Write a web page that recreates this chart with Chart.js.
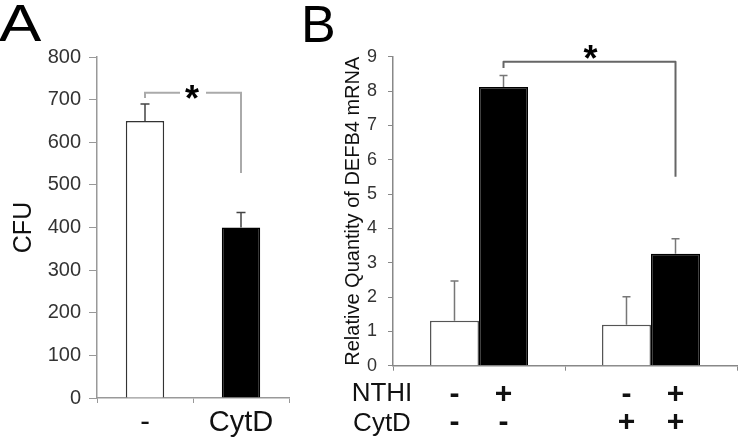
<!DOCTYPE html>
<html>
<head>
<meta charset="utf-8">
<script src="https://cdn.jsdelivr.net/npm/chart.js@4/dist/chart.umd.min.js"></script>
<style>
  html, body { margin: 0; padding: 0; background: #fff; }
  #wrap { position: relative; width: 739px; height: 440px; }
  canvas { position: absolute; left: 0; top: 0; }
</style>
</head>
<body>
<div id="wrap">
  <canvas id="chartA" width="739" height="440"></canvas>
  <canvas id="chartB" width="739" height="440"></canvas>
</div>
<script>
// ---------- Panel A data ----------
const aCategories = ['-', 'CytD'];
const aValues = [650, 400];
const aErrors = [40, 35];
const aTicks = [0, 100, 200, 300, 400, 500, 600, 700, 800];
const aBracket = [716, 704, 528];   // top level, left end, right end (CFU)

// ---------- Panel B data ----------
const bGroups = ['', ''];
const bNoNTHI = [1.31, 1.19];
const bNoNTHIErr = [1.16, 0.82];
const bNTHI = [8.12, 3.26];
const bNTHIErr = [0.33, 0.44];
const bTicks = [0, 1, 2, 3, 4, 5, 6, 7, 8, 9];
const bBracket = [8.85, 8.67, 5.5];
const nthiRow = ['-', '+', '-', '+'];
const cytdRow = ['-', '-', '+', '+'];

const FONT = "'Liberation Sans', Arial, Helvetica, sans-serif";

function errBar(ctx, x, yTop, yBase, cap, color) {
  ctx.save();
  ctx.strokeStyle = color;
  ctx.lineWidth = 1.5;
  ctx.beginPath();
  ctx.moveTo(x, yBase);
  ctx.lineTo(x, yTop);
  ctx.moveTo(x - cap / 2, yTop);
  ctx.lineTo(x + cap / 2, yTop);
  ctx.stroke();
  ctx.restore();
}

// ---------------- Chart A ----------------
const plugA = {
  id: 'plugA',
  afterDatasetsDraw(chart) {
    const ctx = chart.ctx;
    const y = chart.scales.y;
    const meta = chart.getDatasetMeta(0);
    meta.data.forEach((bar, i) => {
      errBar(ctx, bar.x, y.getPixelForValue(aValues[i] + aErrors[i]), y.getPixelForValue(aValues[i]), 9, '#444');
    });
    // significance bracket
    const x0 = meta.data[0].x, x1 = meta.data[1].x;
    const yt = y.getPixelForValue(aBracket[0]);
    const yl = y.getPixelForValue(aBracket[1]);
    const yr = y.getPixelForValue(aBracket[2]);
    const xs = (x0 + x1) / 2 - 1;
    ctx.save();
    ctx.strokeStyle = '#aaa';
    ctx.lineWidth = 2;
    ctx.beginPath();
    ctx.moveTo(x0, yl); ctx.lineTo(x0, yt); ctx.lineTo(xs - 12, yt);
    ctx.moveTo(xs + 14, yt); ctx.lineTo(x1, yt); ctx.lineTo(x1, yr);
    ctx.stroke();
    ctx.fillStyle = '#000';
    ctx.font = 'bold 36px ' + FONT;
    ctx.textAlign = 'center';
    ctx.textBaseline = 'middle';
    ctx.fillText('*', xs, yt + 8);
    // panel letter (slightly wide face)
    ctx.font = '52px ' + FONT;
    ctx.textAlign = 'left';
    ctx.textBaseline = 'alphabetic';
    ctx.translate(-1, 41);
    ctx.scale(1.22, 1);
    ctx.fillText('A', 0, 0);
    ctx.restore();
  }
};

new Chart(document.getElementById('chartA'), {
  type: 'bar',
  data: {
    labels: aCategories,
    datasets: [{
      data: aValues,
      backgroundColor: ['#ffffff', '#000000'],
      borderColor: ['#333333', '#000000'],
      borderWidth: 1.5,
      categoryPercentage: 0.4,
      barPercentage: 1.0
    }]
  },
  options: {
    responsive: false,
    animation: false,
    events: [],
    layout: { padding: { left: 5, top: 57, right: 450, bottom: 0 } },
    plugins: { legend: { display: false }, tooltip: { enabled: false } },
    scales: {
      x: {
        grid: { drawOnChartArea: false, drawTicks: true, tickLength: 5, color: '#999' },
        border: { color: '#999', width: 1.5 },
        ticks: { color: '#111', font: { family: FONT, size: 29 }, padding: 3 },
        afterFit(s) { s.height = 42; }
      },
      y: {
        min: 0, max: 800,
        afterBuildTicks(s) { s.ticks = aTicks.map(v => ({ value: v })); },
        grid: { drawOnChartArea: false, drawTicks: true, tickLength: 8, color: '#999' },
        border: { color: '#999', width: 1.5 },
        ticks: { color: '#333', font: { family: FONT, size: 20 }, padding: 8 },
        title: { display: true, text: 'CFU', color: '#111', font: { family: FONT, size: 25 }, padding: { top: 4, bottom: 4 } },
        afterFit(s) { s.width = 92; }
      }
    }
  },
  plugins: [plugA]
});

// ---------------- Chart B ----------------
const plugB = {
  id: 'plugB',
  afterDatasetsDraw(chart) {
    const ctx = chart.ctx;
    const y = chart.scales.y;
    const m0 = chart.getDatasetMeta(0), m1 = chart.getDatasetMeta(1);
    m0.data.forEach((bar, i) => {
      errBar(ctx, bar.x, y.getPixelForValue(bNoNTHI[i] + bNoNTHIErr[i]), y.getPixelForValue(bNoNTHI[i]), 8, '#777');
    });
    m1.data.forEach((bar, i) => {
      errBar(ctx, bar.x, y.getPixelForValue(bNTHI[i] + bNTHIErr[i]), y.getPixelForValue(bNTHI[i]), 8, '#777');
    });
    // bracket
    const x0 = m1.data[0].x, x1 = m1.data[1].x;
    const yt = y.getPixelForValue(bBracket[0]);
    const yl = y.getPixelForValue(bBracket[1]);
    const yr = y.getPixelForValue(bBracket[2]);
    ctx.save();
    ctx.strokeStyle = '#666';
    ctx.lineWidth = 2;
    ctx.lineJoin = 'round';
    ctx.beginPath();
    ctx.moveTo(x0, yl); ctx.lineTo(x0, yt); ctx.lineTo(x1, yt); ctx.lineTo(x1, yr);
    ctx.stroke();
    ctx.fillStyle = '#000';
    ctx.font = 'bold 36px ' + FONT;
    ctx.textAlign = 'center';
    ctx.textBaseline = 'middle';
    ctx.fillText('*', (x0 + x1) / 2 + 1, yt - 1);
    // row labels
    const xs = [m0.data[0].x, m1.data[0].x, m0.data[1].x, m1.data[1].x];
    const base = y.getPixelForValue(0);
    ctx.font = '26px ' + FONT;
    ctx.fillStyle = '#111';
    ctx.textBaseline = 'alphabetic';
    ctx.fillText('NTHI', 382, base + 35);
    ctx.fillText('CytD', 382, base + 65);
    ctx.font = 'bold 30px ' + FONT;
    xs.forEach((x, i) => {
      ctx.fillText(nthiRow[i], x, base + 37);
      ctx.fillText(cytdRow[i], x, base + 65);
    });
    // panel letter
    ctx.font = '52px ' + FONT;
    ctx.textAlign = 'left';
    ctx.fillStyle = '#000';
    ctx.fillText('B', 301, 42);
    ctx.restore();
  }
};

new Chart(document.getElementById('chartB'), {
  type: 'bar',
  data: {
    labels: bGroups,
    datasets: [
      { data: bNoNTHI, backgroundColor: '#ffffff', borderColor: '#555', borderWidth: 1.5, categoryPercentage: 0.57, barPercentage: 1.0 },
      { data: bNTHI, backgroundColor: '#000000', borderColor: '#000', borderWidth: 1.5, categoryPercentage: 0.57, barPercentage: 1.0 }
    ]
  },
  options: {
    responsive: false,
    animation: false,
    events: [],
    layout: { padding: { left: 337, top: 56.7, right: 2, bottom: 0 } },
    plugins: { legend: { display: false }, tooltip: { enabled: false } },
    scales: {
      x: {
        grid: { drawOnChartArea: false, drawTicks: true, tickLength: 5, color: '#888' },
        border: { color: '#888', width: 1.5 },
        ticks: { display: false },
        afterFit(s) { s.height = 440 - 365.7; }
      },
      y: {
        min: 0, max: 9,
        afterBuildTicks(s) { s.ticks = bTicks.map(v => ({ value: v })); },
        grid: { drawOnChartArea: false, drawTicks: true, tickLength: 5, color: '#888' },
        border: { color: '#888', width: 1.5 },
        ticks: { color: '#333', font: { family: FONT, size: 18 }, padding: 11 },
        title: { display: true, text: 'Relative Quantity of DEFB4 mRNA', color: '#111', font: { family: FONT, size: 20 }, padding: { top: 4, bottom: 4 } },
        afterFit(s) { s.width = 56; }
      }
    }
  },
  plugins: [plugB]
});
</script>
</body>
</html>
